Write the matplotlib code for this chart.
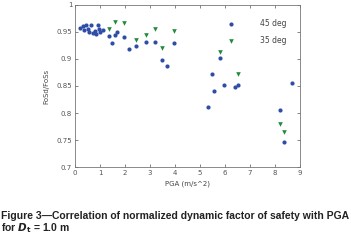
import matplotlib
matplotlib.use("Agg")
import matplotlib.pyplot as plt
from matplotlib import font_manager

# 45 deg series (blue circles)
pga_45 = [0.20, 0.30, 0.35, 0.45, 0.50, 0.55, 0.65, 0.70, 0.80, 0.85, 0.90, 0.95, 1.00, 1.10,
          1.36, 1.48, 1.60, 1.68, 1.97, 2.15, 2.44, 2.83, 3.19, 3.49, 3.67, 3.97,
          5.31, 5.48, 5.57, 5.80, 5.96, 6.41, 6.52, 8.20, 8.37, 8.69]
fos_45 = [0.957, 0.960, 0.953, 0.962, 0.955, 0.950, 0.963, 0.948, 0.952, 0.946, 0.962, 0.955, 0.950, 0.953,
          0.943, 0.930, 0.944, 0.950, 0.941, 0.918, 0.924, 0.931, 0.931, 0.898, 0.886, 0.929,
          0.811, 0.872, 0.841, 0.901, 0.851, 0.848, 0.851, 0.805, 0.746, 0.856]

# 35 deg series (green down-triangles)
pga_35 = [1.36, 1.60, 1.97, 2.44, 2.83, 3.19, 3.49, 3.97, 5.80, 6.52, 8.20, 8.37]
fos_35 = [0.955, 0.969, 0.966, 0.935, 0.945, 0.955, 0.921, 0.952, 0.913, 0.872, 0.780, 0.765]

xticks = list(range(0, 10))
yticks = [0.7, 0.75, 0.8, 0.85, 0.9, 0.95, 1.0]
yticklabels = ["0.7", "0.75", "0.8", "0.85", "0.9", "0.95", "1"]

names = {f.name for f in font_manager.fontManager.ttflist}
cap_font = "Liberation Sans Narrow" if "Liberation Sans Narrow" in names else "Liberation Sans"
cap_size = 8.0 if cap_font == "Liberation Sans Narrow" else 7.45

W, H = 351, 246
fig = plt.figure(figsize=(W / 100, H / 100), dpi=100)
ax = fig.add_axes([75 / W, 1 - 167.3 / H, 225 / W, 162.6 / H])

blue = "#2f4da6"
green = "#1f8a3c"
ax.scatter(pga_45, fos_45, s=9, marker="o", color=blue, linewidths=0, label="45 deg", zorder=3)
ax.scatter(pga_35, fos_35, s=11, marker="v", color=green, linewidths=0, label="35 deg", zorder=3)

ax.set_xlim(0, 9)
ax.set_ylim(0.7, 1.0)
ax.set_xticks(xticks)
ax.set_yticks(yticks)
ax.set_yticklabels(yticklabels)
ax.tick_params(direction="in", length=2.5, width=0.5, labelsize=5, colors="#555555",
               top=True, right=True, pad=2)
for s in ax.spines.values():
    s.set_color("#777777")
    s.set_linewidth(0.6)

ax.set_xlabel("PGA (m/s^2)", fontsize=5, color="#444444", labelpad=3)
ax.set_ylabel("FoSd/FoSs", fontsize=5, color="#444444", labelpad=5)

leg = ax.legend(loc="upper left", bbox_to_anchor=(0.66, 0.91), frameon=False, fontsize=5.5,
                markerscale=1.0, handlelength=2.0, handletextpad=2.8, labelspacing=1.05,
                borderaxespad=0, borderpad=0, labelcolor="#444444")

fig.text(1 / W, 1 - 216 / H, "Figure 3\u2014Correlation of normalized dynamic factor of safety with PGA",
         fontsize=cap_size, fontweight="bold", family=cap_font, va="center", ha="left", color="#222222")
fig.text(1 / W, 1 - 228 / H, r"for $\mathbfit{D}_{\mathbf{t}}$ = 1.0 m",
         fontsize=cap_size, fontweight="bold", family=cap_font, va="center", ha="left", color="#222222")

fig.savefig("out.png", dpi=100)
